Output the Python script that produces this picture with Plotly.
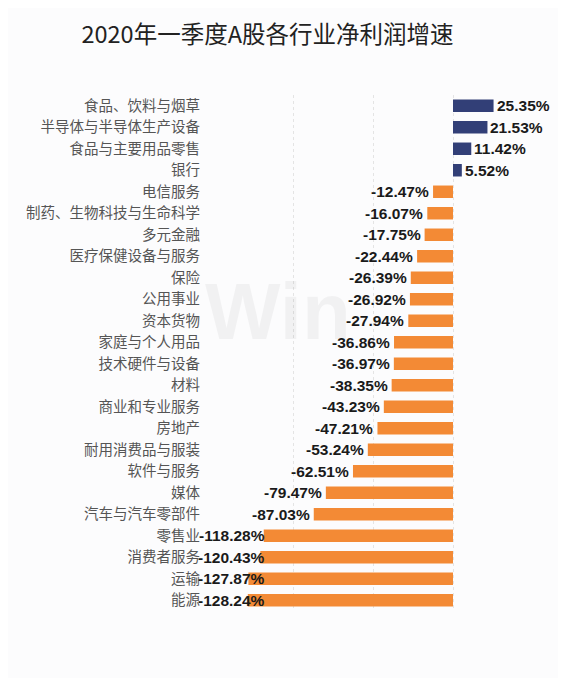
import plotly.graph_objects as go

categories = ["食品、饮料与烟草", "半导体与半导体生产设备", "食品与主要用品零售", "银行", "电信服务",
              "制药、生物科技与生命科学", "多元金融", "医疗保健设备与服务", "保险", "公用事业",
              "资本货物", "家庭与个人用品", "技术硬件与设备", "材料", "商业和专业服务",
              "房地产", "耐用消费品与服装", "软件与服务", "媒体", "汽车与汽车零部件",
              "零售业", "消费者服务", "运输", "能源"]
values = [25.35, 21.53, 11.42, 5.52, -12.47, -16.07, -17.75, -22.44, -26.39, -26.92,
          -27.94, -36.86, -36.97, -38.35, -43.23, -47.21, -53.24, -62.51, -79.47, -87.03,
          -118.28, -120.43, -127.87, -128.24]
x_ticks = [-150, -100, -50, 0, 50]

POS_COLOR = "#323F77"
NEG_COLOR = "#F38A35"
colors = [POS_COLOR if v >= 0 else NEG_COLOR for v in values]

fig = go.Figure()
fig.add_trace(go.Bar(
    y=categories, x=values, orientation="h",
    marker=dict(color=colors, line=dict(width=0)),
    hoverinfo="skip",
))

label_font = dict(family="Liberation Sans, Arial", size=15.5, color="#1a1a1a", weight="bold")
label_cap = -115
for c, v in zip(categories, values):
    if v >= 0:
        fig.add_annotation(x=v, y=c, xref="x", yref="y", text=f"{v:.2f}%",
                           showarrow=False, xanchor="left", xshift=1, font=label_font)
    else:
        fig.add_annotation(x=max(v, label_cap), y=c, xref="x", yref="y", text=f"{v:.2f}%",
                           showarrow=False, xanchor="right", xshift=-2, font=label_font)

# faint watermark
fig.add_annotation(x=-0.03, y=0.58, xref="paper", yref="paper", text="Win",
                   showarrow=False, xanchor="left", yanchor="middle",
                   font=dict(family="Liberation Sans, Arial", size=80, color="rgba(0,0,0,0.045)", weight="bold"))

fig.update_layout(
    width=558, height=670,
    margin=dict(l=205, r=33, t=87, b=67),
    paper_bgcolor="#FCFCFD",
    plot_bgcolor="#FCFCFD",
    bargap=0.42,
    showlegend=False,
    title=dict(text="2020年一季度A股各行业净利润增速", x=0.465, xanchor="center",
               y=0.96, yanchor="middle",
               font=dict(family="Noto Sans CJK SC", size=23.5, color="#222222")),
    xaxis=dict(range=[-150, 50], tickvals=x_ticks, showticklabels=False,
               showgrid=True, gridcolor="#E4E4E4", griddash="dot", gridwidth=1,
               zeroline=False, showline=False, fixedrange=True),
    yaxis=dict(categoryorder="array", categoryarray=categories, autorange="reversed",
               tickfont=dict(family="Noto Sans CJK SC", size=14.5, color="#555555"),
               ticklabelstandoff=12, showgrid=False, zeroline=False, showline=False),
)

fig.write_html("out.html")
